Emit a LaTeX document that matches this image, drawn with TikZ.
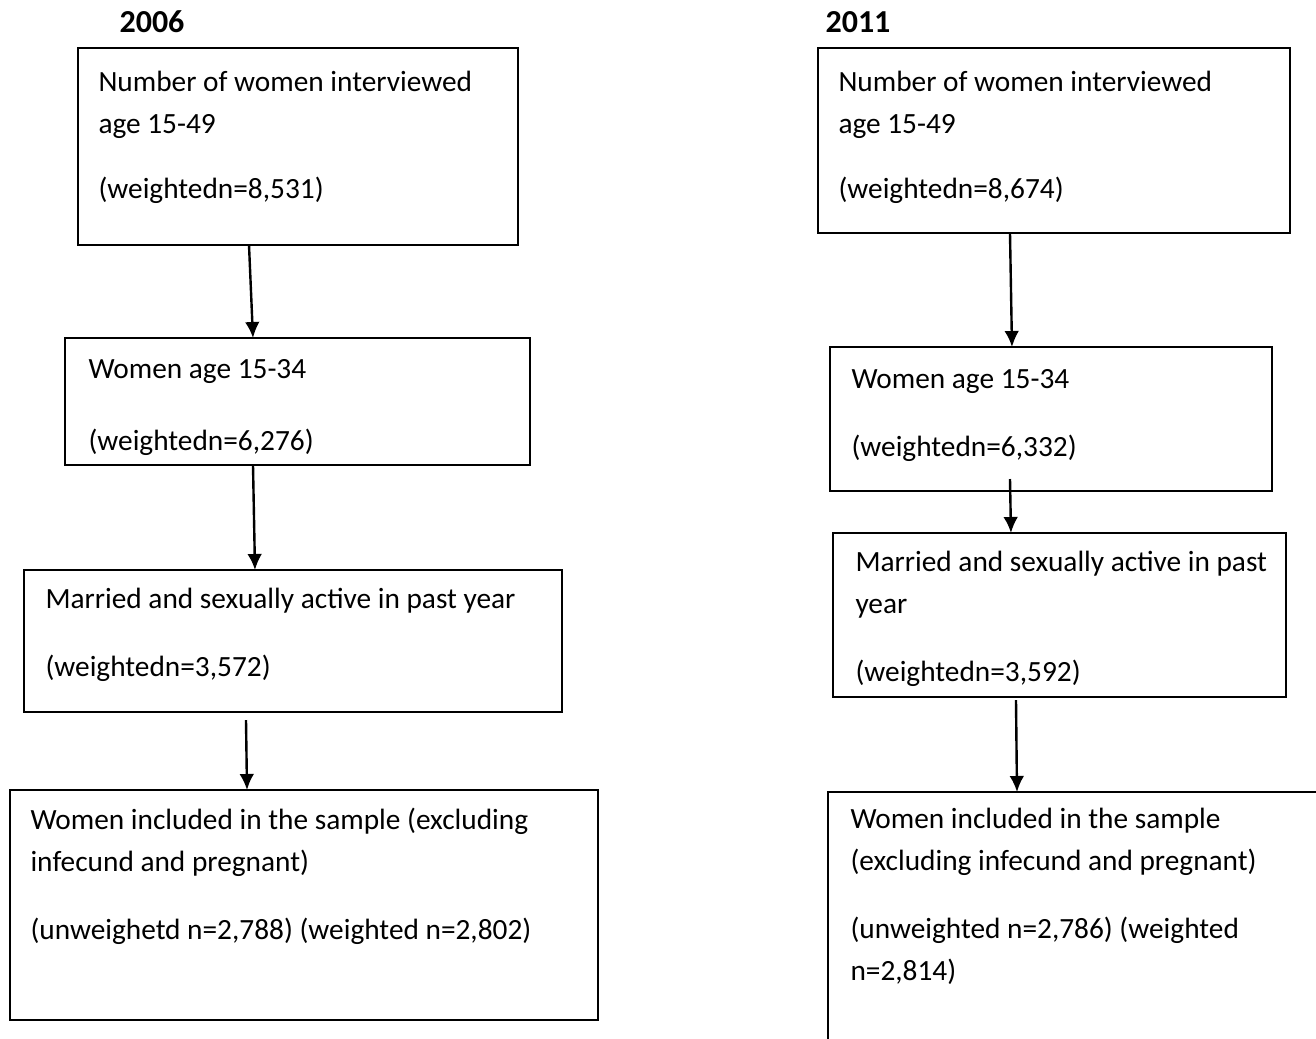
\documentclass[tikz,border=0pt]{standalone}
\usepackage{fontspec}
\setmainfont{Carlito}
\usetikzlibrary{calc,positioning,arrows.meta}
\newdimen\px
\px=0.375pt

\begin{document}
\begin{tikzpicture}[x=0.375pt,y=-0.375pt,
	box/.style={draw,line width=0.9pt,anchor=north west,inner sep=0pt,outer sep=0pt},
	txt/.style={anchor=north west,align=left,inner sep=0pt,font=\fontsize{11}{15.75}\selectfont},
	year/.style={font=\fontsize{12}{14}\selectfont\bfseries},
	arr/.style={-{Latex[length=6pt,width=5.5pt]},line width=0.9pt}]
	\useasboundingbox (0,0) rectangle (1316,1038);
	\clip (0,0) rectangle (1316,1038);
	\node[year] (y06) at (152,22) {2006};
	\node[year] (y11) at (858,22) {2011};
	\node[box,minimum width=440*\px,minimum height=197*\px] (b1) at (78,48) {};
	\node[box,minimum width=465*\px,minimum height=127*\px] (b2) at (65,338) {};
	\node[box,minimum width=538*\px,minimum height=142*\px] (b3) at (24,570) {};
	\node[box,minimum width=588*\px,minimum height=230*\px] (b4) at (10,790) {};
	\node[txt] (t1) at ($(b1.north west)+(20,23)$) {Number of women interviewed\\age 15-49\\[8.6pt](weightedn=8,531)};
	\node[txt] (t2) at ($(b2.north west)+(23,21)$) {Women age 15-34\\[11.25pt](weightedn=6,276)};
	\node[txt] (t3) at ($(b3.north west)+(21,18)$) {Married and sexually active in past year\\[9.75pt](weightedn=3,572)};
	\node[txt] (t4) at ($(b4.north west)+(20,18)$) {Women included in the sample (excluding\\infecund and pregnant)\\[9.75pt](unweighetd n=2,788) (weighted n=2,802)};
		\node[box,minimum width=472*\px,minimum height=185*\px] (r1) at (818,48) {};
		\node[box,minimum width=442*\px,minimum height=144*\px] (r2) at (830,347) {};
		\node[box,minimum width=453*\px,minimum height=164*\px] (r3) at (833,533) {};
		\node[box,minimum width=520*\px,minimum height=270*\px] (r4) at (828,792) {};
	\node[txt] (s1) at ($(r1.north west)+(20,23)$) {Number of women interviewed\\age 15-49\\[8.6pt](weightedn=8,674)};
	\node[txt] (s2) at ($(r2.north west)+(21,22)$) {Women age 15-34\\[9.75pt](weightedn=6,332)};
	\node[txt] (s3) at ($(r3.north west)+(22,18)$) {Married and sexually active in past\\year\\[9.75pt](weightedn=3,592)};
	\node[txt] (s4) at ($(r4.north west)+(22,16)$) {Women included in the sample\\(excluding infecund and pregnant)\\[9.75pt](unweighted n=2,786) (weighted\\n=2,814)};
	\draw[arr] ($(b1.south west)+(171,0)$) -- ($(b2.north west)+(188,0)$);
	\draw[arr] ($(b2.south west)+(188,0)$) -- ($(b3.north west)+(231,0)$);
	\draw[arr] ($(b3.south west)+(222,8)$) -- ($(b4.north west)+(237,0)$);
	\draw[arr] ($(r1.south west)+(192,0)$) -- ($(r2.north west)+(182,0)$);
	\draw[arr] ($(r2.south west)+(180,-12)$) -- ($(r3.north west)+(178,0)$);
	\draw[arr] ($(r3.south west)+(183,3)$) -- ($(r4.north west)+(189,0)$);
\end{tikzpicture}
\end{document}
